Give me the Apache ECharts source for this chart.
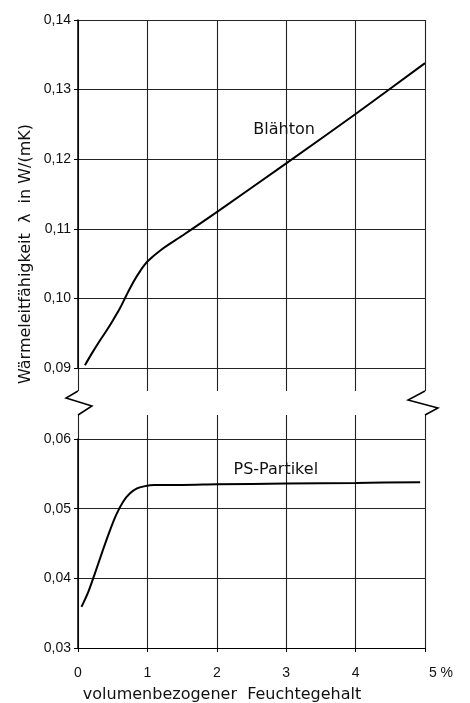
<!DOCTYPE html>
<html>
<head>
<meta charset="utf-8">
<script src="https://cdn.jsdelivr.net/npm/echarts@6/dist/echarts.min.js"></script>
<style>
    html, body { margin: 0; padding: 0; background: #fff; }
    #chart { width: 470px; height: 703px; }
</style>
</head>
<body>
<div id="chart"></div>
<script>
// Feuchtegehalt in %, Waermeleitfaehigkeit in W/(mK)
var blaehton = [[0.1, 0.0904], [0.2, 0.0921], [0.3, 0.0937], [0.4, 0.0952], [0.5, 0.0968], [0.6, 0.0985],
    [0.7, 0.1005], [0.8, 0.1024], [0.9, 0.104], [1.0, 0.1053], [1.2, 0.107], [1.5, 0.109],
    [2.0, 0.1124], [3.0, 0.1194], [4.0, 0.1265], [5.0, 0.1338]];
var psPartikel = [[0.05, 0.0359], [0.15, 0.0381], [0.25, 0.0409], [0.35, 0.0438], [0.45, 0.0466], [0.55, 0.0491],
    [0.65, 0.051], [0.75, 0.0522], [0.85, 0.0529], [0.95, 0.0532], [1.1, 0.0534], [1.5, 0.0534],
    [2, 0.0535], [3, 0.0536], [4, 0.0537], [4.93, 0.0538]];
var xTickLabels = ['0', '1', '2', '3', '4', '5 %'];
var upperRange = [0.09, 0.14];
var lowerRange = [0.03, 0.06];

var fnt = 'DejaVu Sans';
var tickFnt = 'Liberation Sans';
var gridCol = '#222';

var myChart = echarts.init(document.getElementById('chart'));

function gridX(i, withLabels) {
    return {
        type: 'value', gridIndex: i, min: 0, max: 5, interval: 1,
        axisLine: { show: withLabels, lineStyle: { color: '#000', width: 1.2 } },
        axisTick: { show: withLabels, length: 4, lineStyle: { color: '#000' } },
        axisLabel: {
            show: withLabels, margin: 18, color: '#111', fontFamily: tickFnt, fontSize: 14,
            formatter: function (v) {
                var t = xTickLabels[Math.round(v)];
                return v == 5 ? '{p|' + t + '}' : t;
            },
            rich: { p: { fontFamily: tickFnt, fontSize: 14, color: '#111', padding: [0, 0, 0, 32] } }
        },
        splitLine: { show: true, lineStyle: { color: gridCol, width: 1.1 } }
    };
}

function gridY(i, range) {
    if (!range) {
        return { type: 'value', gridIndex: i, min: 0, max: 1, show: false };
    }
    return {
        type: 'value', gridIndex: i, min: range[0], max: range[1], interval: 0.01,
        axisLine: { show: true, lineStyle: { color: '#000', width: 1.5 } },
        axisTick: { show: true, length: 4, lineStyle: { color: '#000' } },
        axisLabel: {
            margin: 7, color: '#111', fontFamily: tickFnt, fontSize: 14,
            formatter: function (v) { return v.toFixed(2).replace('.', ','); }
        },
        splitLine: { show: true, lineStyle: { color: gridCol, width: 1.1 } }
    };
}

var option = {
    animation: false,
    backgroundColor: '#fff',
    grid: [
        { left: 78, top: 20, width: 347, height: 348 },
        { left: 78, top: 368, width: 347, height: 23 },
        { left: 78, top: 415, width: 347, height: 24 },
        { left: 78, top: 439, width: 347, height: 209 }
    ],
    xAxis: [gridX(0, false), gridX(1, false), gridX(2, false), gridX(3, true)],
    yAxis: [gridY(0, upperRange), gridY(1), gridY(2), gridY(3, lowerRange)],
    series: [
        {
            type: 'line', name: 'Blähton', xAxisIndex: 0, yAxisIndex: 0,
            data: blaehton, smooth: 0.3, symbol: 'none',
            lineStyle: { color: '#000', width: 2 },
            markPoint: {
                symbol: 'circle', symbolSize: 0,
                label: { show: true, position: 'inside', formatter: '{b}', color: '#111', fontFamily: fnt, fontSize: 16 },
                data: [{ name: 'Blähton', coord: [2.97, 0.1242] }]
            }
        },
        {
            type: 'line', name: 'PS-Partikel', xAxisIndex: 3, yAxisIndex: 3,
            data: psPartikel, smooth: 0.3, symbol: 'none',
            lineStyle: { color: '#000', width: 2 },
            markPoint: {
                symbol: 'circle', symbolSize: 0,
                label: { show: true, position: 'inside', formatter: '{b}', color: '#111', fontFamily: fnt, fontSize: 16 },
                data: [{ name: 'PS-Partikel', coord: [2.85, 0.0556] }]
            }
        }
    ]
};
myChart.setOption(option);

// Achsenbruch (Zickzack) und Achsentitel
var a = myChart.convertToPixel({ xAxisIndex: 1, yAxisIndex: 1 }, [0, 0]);
var b = myChart.convertToPixel({ xAxisIndex: 1, yAxisIndex: 1 }, [5, 0]);
var c = myChart.convertToPixel({ xAxisIndex: 2, yAxisIndex: 2 }, [0, 1]);
var y0 = a[1], y1 = c[1];

myChart.setOption({
    graphic: [
        {
            type: 'polyline',
            shape: { points: [[a[0], y0], [a[0] - 12, y0 + 7], [a[0] + 14, y0 + 15], [a[0], y1]] },
            style: { stroke: '#000', lineWidth: 1.5, fill: null }
        },
        {
            type: 'polyline',
            shape: { points: [[b[0], y0], [b[0] - 17, y0 + 9], [b[0] + 13, y0 + 17], [b[0], y1]] },
            style: { stroke: '#000', lineWidth: 1.5, fill: null }
        },
        {
            type: 'text', x: 26, y: 254, rotation: Math.PI / 2,
            style: {
                text: 'Wärmeleitfähigkeit  λ  in W/(mK)', fill: '#111',
                font: '16px "DejaVu Sans"', textAlign: 'center', textVerticalAlign: 'middle'
            }
        },
        {
            type: 'text', x: 222, y: 695,
            style: {
                text: 'volumenbezogener  Feuchtegehalt', fill: '#111',
                font: '16px "DejaVu Sans"', textAlign: 'center', textVerticalAlign: 'middle'
            }
        }
    ]
});
</script>
</body>
</html>
